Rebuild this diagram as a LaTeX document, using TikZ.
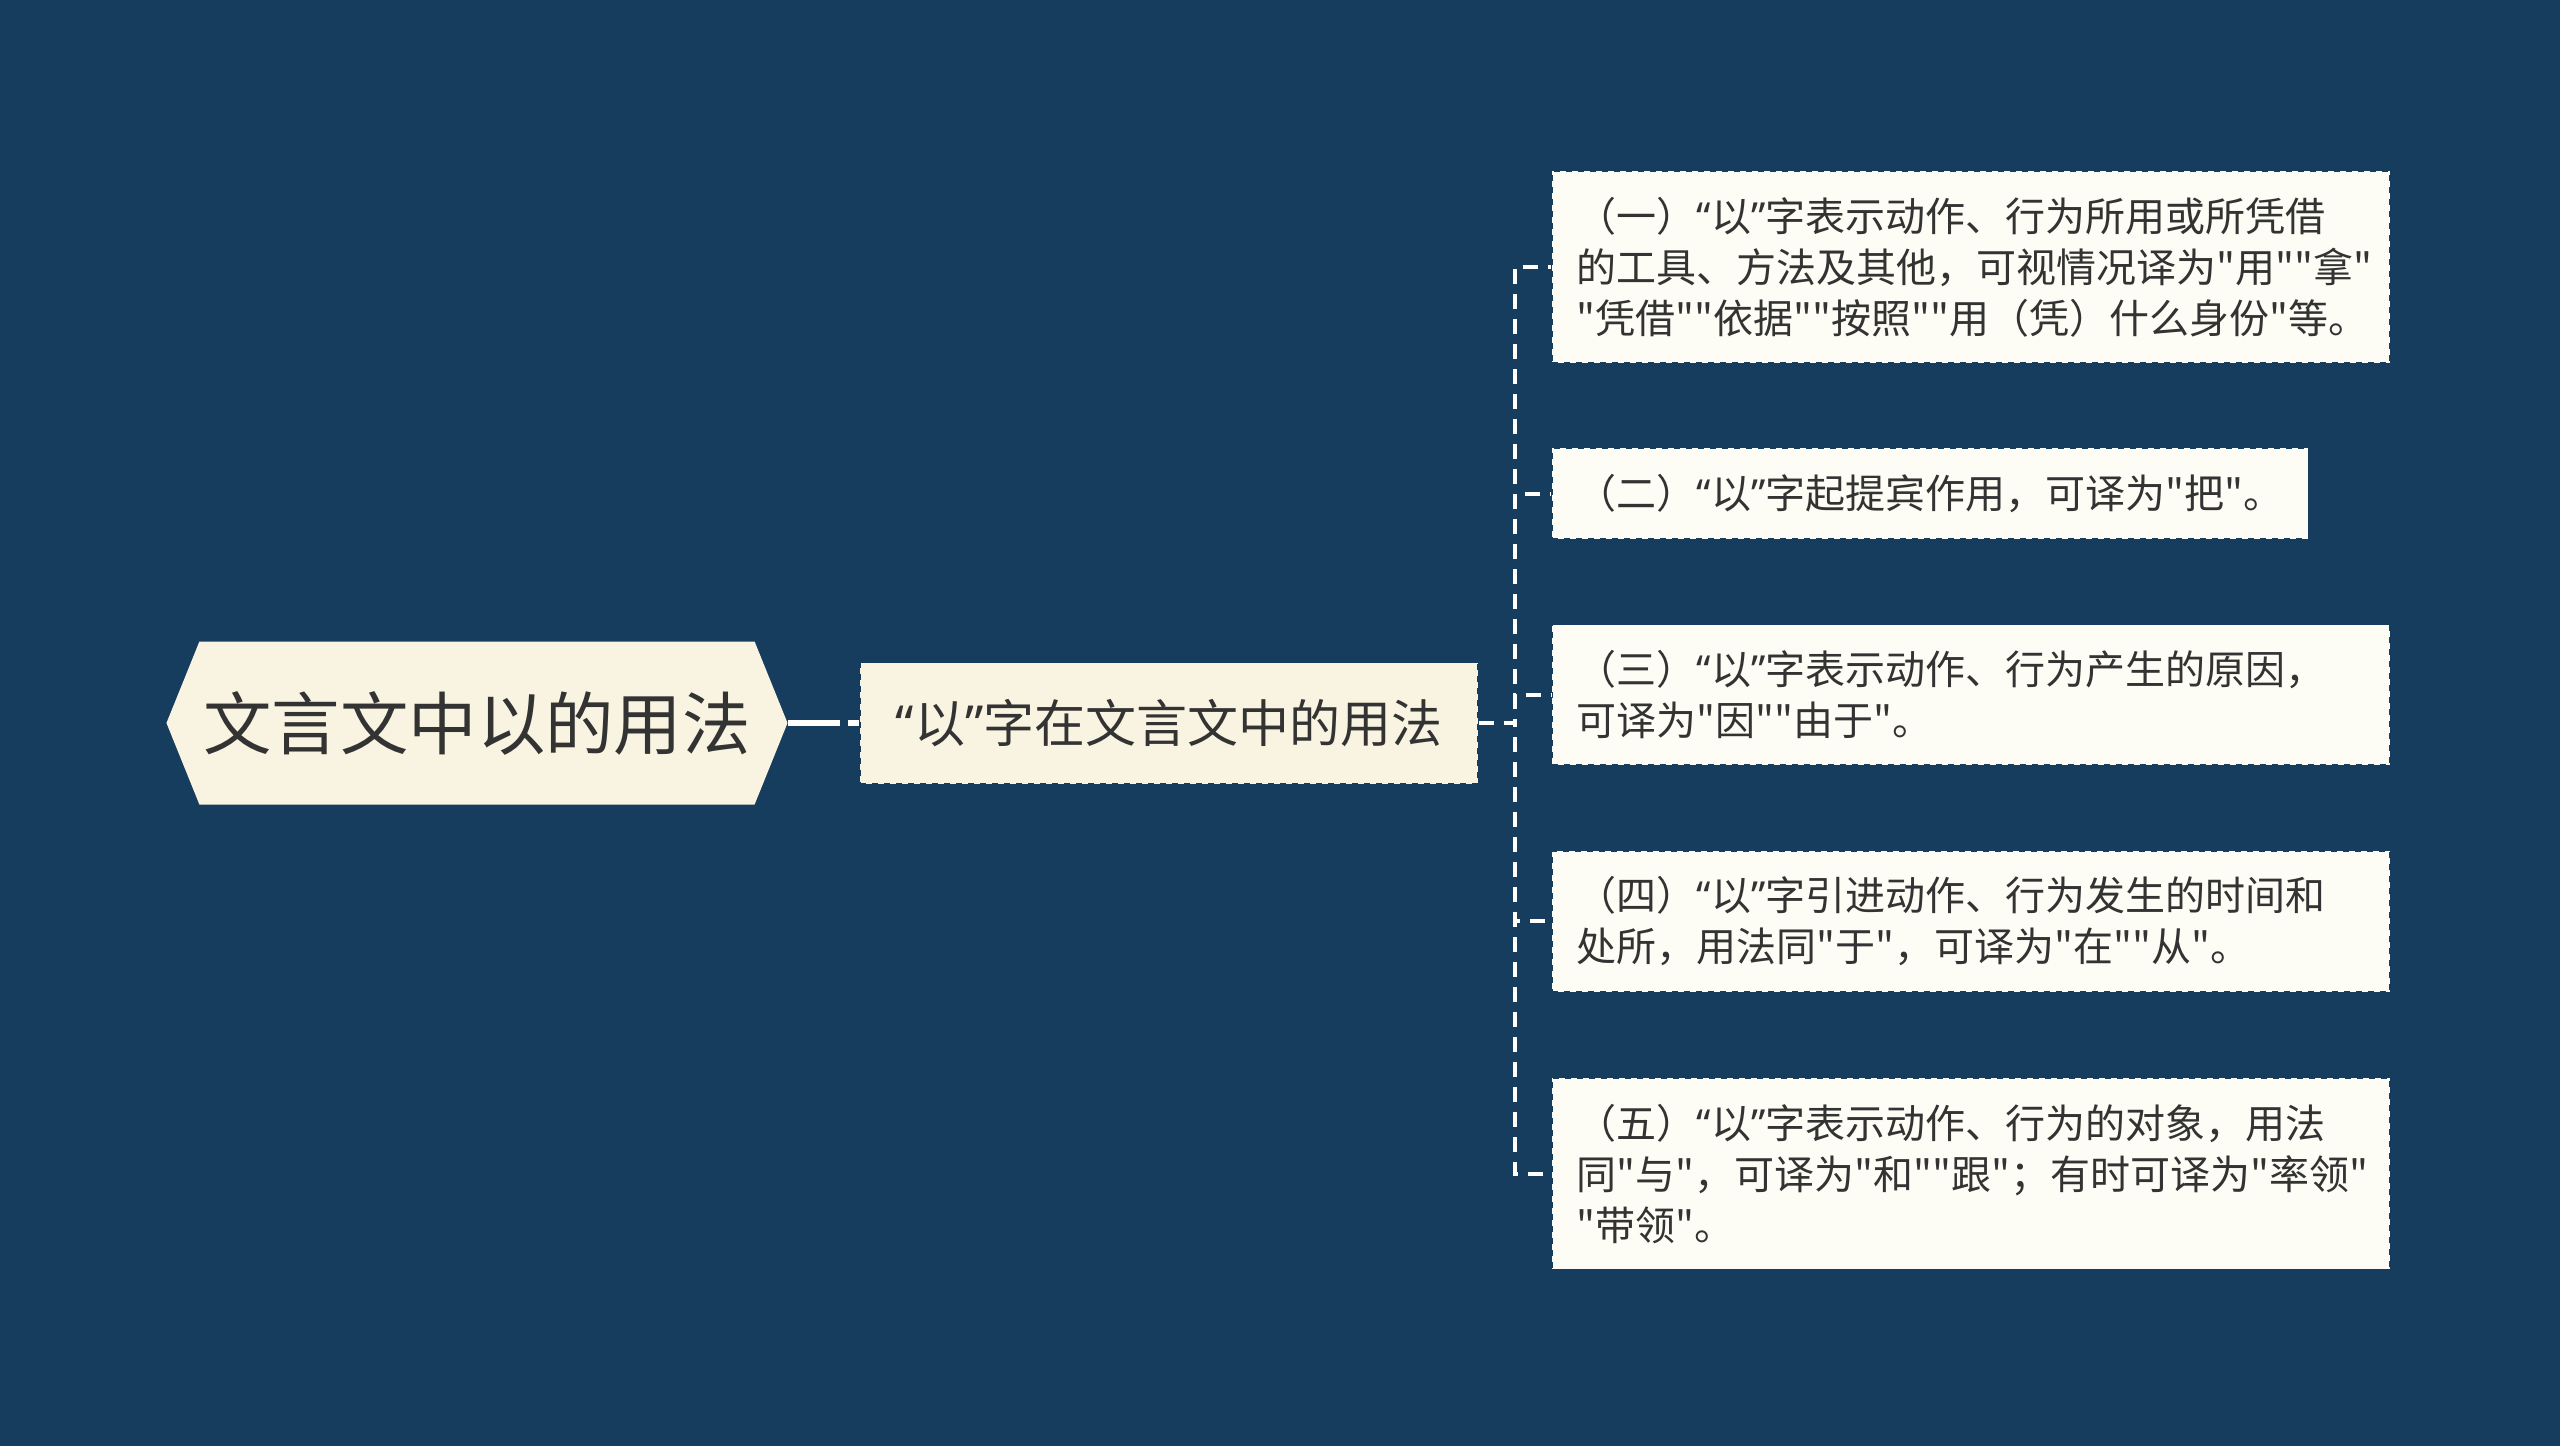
\documentclass[tikz,border=0pt]{standalone}
\usepackage{fontspec}
\newfontfamily\cjk{Noto Sans CJK SC}
\newfontfamily\quotefont{Noto Sans}
\newcommand\oquote{{\quotefont “}}
\newcommand\cquote{{\quotefont ”}}
\usetikzlibrary{positioning,shapes.symbols}
\definecolor{bgblue}{HTML}{173D5E}
\definecolor{cream}{HTML}{F8F4E1}
\definecolor{paper}{HTML}{FDFDF5}
\definecolor{ink}{HTML}{333333}

\begin{document}
\begin{tikzpicture}[x=0.5pt,y=-0.5pt,
	every node/.style={text=ink},
	rootnode/.style={shape=signal, signal to=west and east, signal pointer angle=136,
		fill=cream, font=\cjk\fontsize{34.2}{40}\selectfont, minimum height=81.5pt, inner xsep=2pt},
	midnode/.style={fill=cream, draw=bgblue, dashed, line width=0.8pt, font=\cjk\fontsize{25.5}{30}\selectfont,
		minimum height=60.5pt, minimum width=309pt},
	leafnode/.style={fill=paper, draw=bgblue, dashed, line width=0.8pt, font=\cjk\fontsize{20}{25.5}\selectfont,
		align=left, anchor=north west, inner xsep=12.5pt, inner ysep=13pt},
	link/.style={draw=white, line width=2pt, dash pattern=on 7.5pt off 5pt}]
	\fill[bgblue] (0,0) rectangle (2560,1446);
	\node[rootnode] (root) at (477,723) {文言文中以的用法};
	\node[midnode] (mid) at (1169,723) {\oquote 以\cquote 字在文言文中的用法};
	\node[leafnode, text width=394pt] (leaf1) at (1551,170)
		{（一）\oquote 以\cquote 字表示动作、行为所用或所凭借\\的工具、方法及其他，可视情况译为"用""拿"\\"凭借""依据""按照""用（凭）什么身份"等。};
	\node[leafnode, below=42pt of leaf1.south west, anchor=north west] (leaf2)
		{（二）\oquote 以\cquote 字起提宾作用，可译为"把"。};
	\node[leafnode, text width=394pt, below=42pt of leaf2.south west, anchor=north west] (leaf3)
		{（三）\oquote 以\cquote 字表示动作、行为产生的原因，\\可译为"因""由于"。};
	\node[leafnode, text width=394pt, below=42pt of leaf3.south west, anchor=north west] (leaf4)
		{（四）\oquote 以\cquote 字引进动作、行为发生的时间和\\处所，用法同"于"，可译为"在""从"。};
	\node[leafnode, text width=394pt, below=42pt of leaf4.south west, anchor=north west] (leaf5)
		{（五）\oquote 以\cquote 字表示动作、行为的对象，用法\\同"与"，可译为"和""跟"；有时可译为"率领"\\"带领"。};
	\draw[link, line width=3pt, dash pattern=on 26pt off 4pt] (root.east) -- (mid.west);
	\foreach \i in {1,...,5}
		\draw[link] (mid.east) -- ++(18pt,0) |- (leaf\i.west);
\end{tikzpicture}
\end{document}
